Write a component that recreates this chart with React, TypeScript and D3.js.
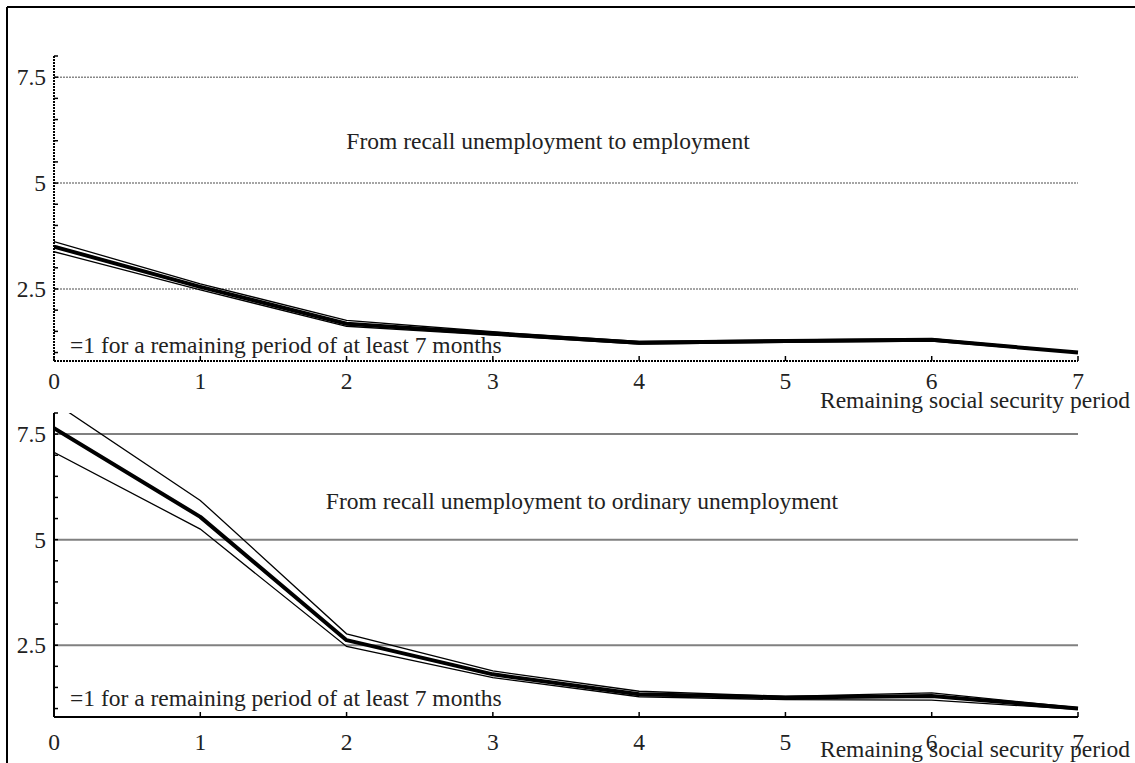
import React from "react";
import * as d3 from "d3";

const periods = [0, 1, 2, 3, 4, 5, 6, 7];
const empMain = [3.5, 2.55, 1.68, 1.45, 1.23, 1.27, 1.3, 1.0];
const empUpper = [3.62, 2.62, 1.76, 1.49, 1.26, 1.3, 1.33, 1.01];
const empLower = [3.38, 2.48, 1.62, 1.41, 1.2, 1.24, 1.27, 0.99];
const ordMain = [7.64, 5.54, 2.62, 1.81, 1.34, 1.26, 1.3, 1.0];
const ordUpper = [8.25, 5.93, 2.77, 1.89, 1.41, 1.29, 1.37, 1.02];
const ordLower = [7.07, 5.25, 2.47, 1.73, 1.28, 1.21, 1.2, 0.98];
const yTickLabels = [2.5, 5, 7.5];
const minorTicks = d3.range(1, 8.01, 0.5);
const titles = ["From recall unemployment to employment", "From recall unemployment to ordinary unemployment"];
const note = "=1 for a remaining period of at least 7 months";
const xTitle = "Remaining social security period";

const FONT = "'Liberation Serif', 'Times New Roman', serif";
const FS = 23.5;

type PanelProps = {
  top: number;
  bottom: number;
  title: string;
  titleX: number;
  main: number[];
  upper: number[];
  lower: number[];
  dotted: boolean;
  id: string;
  off: { xl: number; xt: number; ti: number; note: number };
};

function Panel({ top, bottom, title, titleX, main, upper, lower, dotted, id, off }: PanelProps) {
  const x = d3.scaleLinear().domain([0, 7]).range([54, 1078]);
  const y = d3.scaleLinear().domain([0.8, 8]).range([bottom, top]);
  const line = d3
    .line<number>()
    .x((_, i) => x(periods[i]))
    .y((d) => y(d));
  const axisDash = dotted ? "2,1" : undefined;
  const gridColor = dotted ? "#888" : "#808080";
  return (
    <g>
      <defs>
        <clipPath id={id}>
          <rect x={x(0)} y={y(8)} width={x(7) - x(0) + 4} height={y(0.8) - y(8)} />
        </clipPath>
      </defs>
      {yTickLabels.map((v) => (
        <line
          key={"g" + v}
          x1={x(0)}
          x2={x(7)}
          y1={y(v)}
          y2={y(v)}
          stroke={gridColor}
          strokeWidth={dotted ? 1.5 : 2}
          strokeDasharray={dotted ? "2,1" : undefined}
        />
      ))}
      <g clipPath={`url(#${id})`}>
        <path d={line(upper) || ""} fill="none" stroke="#000" strokeWidth={1.3} />
        <path d={line(lower) || ""} fill="none" stroke="#000" strokeWidth={1.3} />
        <path d={line(main) || ""} fill="none" stroke="#000" strokeWidth={4} strokeLinejoin="round" />
      </g>
      <line x1={x(0)} x2={x(0)} y1={y(8)} y2={y(0.8)} stroke="#000" strokeWidth={2} strokeDasharray={axisDash} />
      <line x1={x(0)} x2={x(7)} y1={y(0.8)} y2={y(0.8)} stroke="#000" strokeWidth={2.2} strokeDasharray={axisDash} />
      {minorTicks.map((v) => (
        <line key={"t" + v} x1={x(0)} x2={x(0) + 4} y1={y(v)} y2={y(v)} stroke="#000" strokeWidth={1.5} />
      ))}
      {periods.map((p) => (
        <line key={"xt" + p} x1={x(p)} x2={x(p)} y1={y(0.8)} y2={y(0.8) - 5} stroke="#000" strokeWidth={1.5} />
      ))}
      {yTickLabels.map((v) => (
        <text key={"yl" + v} x={x(0) - 8} y={y(v) + 8} textAnchor="end" fontFamily={FONT} fontSize={FS} fill="#222">
          {v}
        </text>
      ))}
      {periods.map((p) => (
        <text key={"xl" + p} x={x(p)} y={y(0.8) + off.xl} textAnchor="middle" fontFamily={FONT} fontSize={FS} fill="#222">
          {p}
        </text>
      ))}
      <text x={1130} y={y(0.8) + off.xt} textAnchor="end" fontFamily={FONT} fontSize={FS} fill="#222">
        {xTitle}
      </text>
      <text x={titleX} y={y(8) + off.ti} textAnchor="middle" fontFamily={FONT} fontSize={FS} fill="#222">
        {title}
      </text>
      <text x={70} y={y(0.8) + off.note} fontFamily={FONT} fontSize={FS} fill="#222">
        {note}
      </text>
    </g>
  );
}

export default function App() {
  return (
    <svg
      width={1135}
      height={763}
      style={{ position: "absolute", left: 0, top: 0, display: "block", background: "#fff" }}
    >
      <rect x={0} y={0} width={1135} height={763} fill="#fff" />
      <line x1={7} x2={1135} y1={7} y2={7} stroke="#000" strokeWidth={2} />
      <line x1={7} x2={7} y1={7} y2={763} stroke="#000" strokeWidth={2} />
      <Panel
        top={56}
        bottom={361}
        title={titles[0]}
        titleX={548}
        main={empMain}
        upper={empUpper}
        lower={empLower}
        dotted={true}
        id="clipA"
        off={{ xl: 28, xt: 47, ti: 93, note: -8 }}
      />
      <Panel
        top={413}
        bottom={717}
        title={titles[1]}
        titleX={582}
        main={ordMain}
        upper={ordUpper}
        lower={ordLower}
        dotted={false}
        id="clipB"
        off={{ xl: 33, xt: 40, ti: 96, note: -11 }}
      />
    </svg>
  );
}
